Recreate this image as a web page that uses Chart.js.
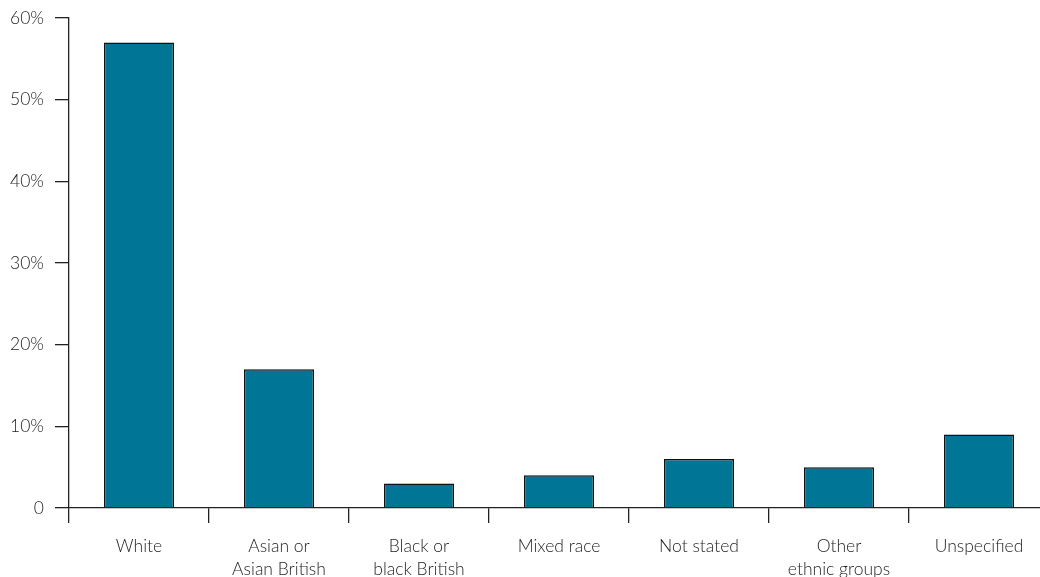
<!DOCTYPE html>
<html>
<head>
<meta charset="utf-8">
<script src="https://cdn.jsdelivr.net/npm/chart.js@4"></script>
<style>
    html, body { margin: 0; padding: 0; background: #fff; overflow: hidden; }
    #wrap { position: relative; width: 1050px; height: 577px; }
</style>
</head>
<body>
<div id="wrap"><canvas id="ethnicChart"></canvas></div>
<script>
// categories and values (percent of total)
const categories = [
    'White',
    ['Asian or', 'Asian British'],
    ['Black or', 'black British'],
    'Mixed race',
    'Not stated',
    ['Other', 'ethnic groups'],
    'Unspecified'
];
const shares = [57, 17, 3, 4, 6, 5, 9];
const yTicks = [0, 10, 20, 30, 40, 50, 60];

const barColor = '#007595';
const lineColor = '#222';
const textColor = '#1e1e1e';
const labelFont = { family: 'Lato', size: 17.5, weight: 300, lineHeight: 1.32 };

const ctx = document.getElementById('ethnicChart').getContext('2d');
new Chart(ctx, {
    type: 'bar',
    data: {
        labels: categories,
        datasets: [{
            data: shares,
            backgroundColor: barColor,
            borderColor: '#111',
            borderWidth: 1.5,
            barPercentage: 0.5,
            categoryPercentage: 1.0
        }]
    },
    options: {
        responsive: true,
        maintainAspectRatio: false,
        animation: false,
        layout: { padding: { top: 18, right: 1, left: 0, bottom: 0 } },
        plugins: {
            legend: { display: false },
            tooltip: { enabled: false }
        },
        scales: {
            x: {
                grid: {
                    offset: true,
                    drawOnChartArea: false,
                    tickLength: 15,
                    color: lineColor,
                    lineWidth: 1.3
                },
                border: { color: lineColor, width: 1.3 },
                ticks: {
                    color: textColor,
                    padding: 12,
                    maxRotation: 0,
                    autoSkip: false,
                    font: labelFont
                },
                afterFit: function(scale) {
                    scale.height = 69;
                    scale.paddingLeft = 0;
                    scale.paddingRight = 0;
                }
            },
            y: {
                min: 0,
                max: 60,
                afterBuildTicks: function(scale) {
                    scale.ticks = yTicks.map(v => ({ value: v }));
                },
                grid: {
                    drawOnChartArea: false,
                    tickLength: 14,
                    color: lineColor,
                    lineWidth: 1.3
                },
                border: { color: lineColor, width: 1.3 },
                ticks: {
                    color: textColor,
                    padding: 11,
                    font: labelFont,
                    callback: function(v) { return v === 0 ? '0' : v + '%'; }
                },
                afterFit: function(scale) {
                    scale.width = 69;
                    scale.paddingTop = 0;
                    scale.paddingBottom = 0;
                }
            }
        }
    }
});
</script>
</body>
</html>
